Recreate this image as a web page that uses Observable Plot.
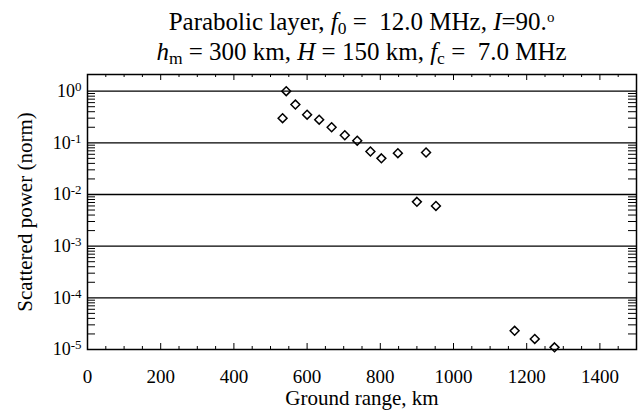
<!DOCTYPE html>
<html>
<head>
<meta charset="utf-8">
<script src="https://cdn.jsdelivr.net/npm/d3@7"></script>
<script src="https://cdn.jsdelivr.net/npm/@observablehq/plot@0.6"></script>
<style>
  body { margin: 0; background: #fff; }
  #chart { width: 644px; height: 416px; font-family: "Liberation Serif", "Times New Roman", serif; color: #000; }
  #title { height: 70px; box-sizing: border-box; padding-top: 7px; padding-left: 87px; width: 636px;
           text-align: center; font-size: 25px; line-height: 30px; white-space: nowrap; }
  #title sub { font-size: 0.7em; vertical-align: -0.25em; line-height: 0; }
  #title sup { font-size: 0.6em; vertical-align: 0.55em; line-height: 0; }
  svg { display: block; }
</style>
</head>
<body>
<div id="chart">
  <div id="title">
    <div>Parabolic layer, <i>f</i><sub>0</sub> =&nbsp; 12.0 MHz, <i>I</i>=90.<sup>o</sup></div>
    <div><i>h</i><sub>m</sub> = 300 km, <i>H</i> = 150 km, <i>f</i><sub>c</sub> =&nbsp; 7.0 MHz</div>
  </div>
</div>
<script>
// Ground range (km) and normalised scattered power of each echo
const rangeKm = [533, 543, 568, 600, 633, 667, 703, 737, 773, 803, 848, 900, 925, 952, 1167, 1222, 1276];
const power   = [0.30, 1.0, 0.55, 0.35, 0.28, 0.20, 0.14, 0.11, 0.068, 0.050, 0.063, 0.0072, 0.065, 0.0060, 2.3e-5, 1.6e-5, 1.1e-5];

// Axis ticks
const xMajor = [0, 200, 400, 600, 800, 1000, 1200, 1400];
const xMinor = d3.range(0, 1501, 50).filter(d => d % 200 !== 0);
const yDecades = [1, 1e-1, 1e-2, 1e-3, 1e-4, 1e-5];
const yMinor = [];
for (let e = -5; e <= -1; e++) for (let m = 2; m <= 9; m++) yMinor.push(m * Math.pow(10, e));

const xTitle = "Ground range, km";
const yTitle = "Scattered power (norm)";

const data = rangeKm.map((r, i) => ({range: r, power: power[i]}));

const W = 644, H = 346;
const mL = 87, mR = 8, mT = 4, mB = 67;
const fw = W - mL - mR, fh = H - mT - mB;

const svg = Plot.plot({
  width: W,
  height: H,
  marginLeft: mL, marginRight: mR, marginTop: mT, marginBottom: mB,
  style: {fontFamily: "'Liberation Serif', 'Times New Roman', serif", fontSize: "19px", background: "#fff", color: "#000", overflow: "visible"},
  x: {domain: [0, 1500]},
  y: {type: "log", domain: [1e-5, 2.1]},
  marks: [
    Plot.ruleY(yDecades.filter(d => d > 1e-5), {stroke: "#000", strokeWidth: 1.3}),
    // inward ticks on all four sides
    Plot.tickX(xMajor, {x: d => d, insetTop: fh - 6, stroke: "#000"}),
    Plot.tickX(xMinor, {x: d => d, insetTop: fh - 3, stroke: "#000"}),
    Plot.tickX(xMajor, {x: d => d, insetBottom: fh - 6, stroke: "#000"}),
    Plot.tickX(xMinor, {x: d => d, insetBottom: fh - 3, stroke: "#000"}),
    Plot.tickY(yMinor, {y: d => d, insetRight: fw - 8, stroke: "#000"}),
    Plot.tickY(yMinor, {y: d => d, insetLeft: fw - 8, stroke: "#000"}),
    Plot.frame({stroke: "#000", strokeWidth: 1.5}),
    Plot.axisX({ticks: xMajor, tickSize: 0, tickPadding: 20, tickFormat: d => String(d), fontSize: 19, label: null}),
    Plot.axisY({ticks: yDecades, tickSize: 0, tickPadding: 6, tickFormat: d => "10^" + Math.round(Math.log10(d)), fontSize: 18, label: null}),
    Plot.text([xTitle], {text: d => d, frameAnchor: "bottom", textAnchor: "middle", dy: 55, fontSize: 21}),
    Plot.text([yTitle], {text: d => d, frameAnchor: "left", textAnchor: "middle", rotate: -90, dx: -62, fontSize: 21}),
    Plot.dot(data, {x: "range", y: "power", symbol: "diamond2", r: 4, stroke: "#000", strokeWidth: 1.5, fill: "none"})
  ]
});

// power-of-ten labels with superscript exponents
d3.select(svg).selectAll('g[aria-label="y-axis tick label"] text').each(function() {
  const t = d3.select(this);
  const parts = t.text().split("^");
  t.text(parts[0]);
  t.append("tspan").attr("dy", "-0.45em").attr("font-size", "0.72em").text(parts[1]);
});

document.getElementById("chart").appendChild(svg);
</script>
</body>
</html>
